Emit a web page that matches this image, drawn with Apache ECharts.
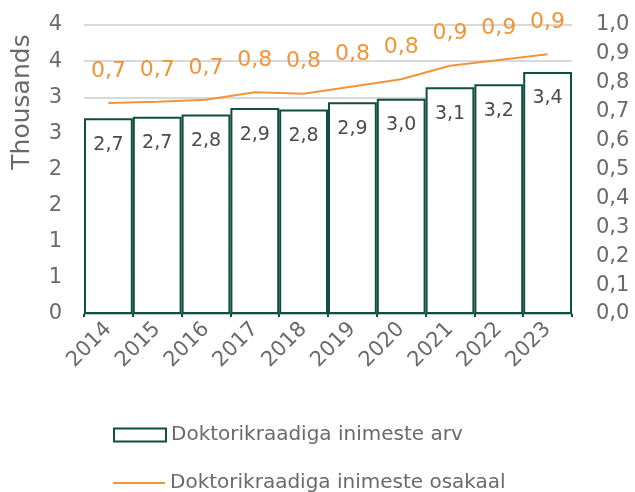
<!DOCTYPE html>
<html>
<head>
<meta charset="utf-8">
<script src="https://cdn.jsdelivr.net/npm/echarts@6/dist/echarts.min.js"></script>
<style>
  html, body { margin: 0; padding: 0; background: #fff; }
  #chart { width: 635px; height: 492px; }
</style>
</head>
<body>
<div id="chart"></div>
<script>
// data
var years = ['2014', '2015', '2016', '2017', '2018', '2019', '2020', '2021', '2022', '2023'];
var arv = [2.71, 2.73, 2.76, 2.85, 2.83, 2.93, 2.98, 3.14, 3.18, 3.35];      // thousands
var osakaal = [0.730, 0.734, 0.741, 0.767, 0.762, 0.787, 0.812, 0.859, 0.879, 0.899];
var barName = 'Doktorikraadiga inimeste arv';
var lineName = 'Doktorikraadiga inimeste osakaal';

var font = '"DejaVu Sans", sans-serif';
var green = '#0e4f3d';
var orange = '#f0953a';
var grey = '#6a6a6a';

function comma1(v) { return v.toFixed(1).replace('.', ','); }

var myChart = echarts.init(document.getElementById('chart'));
var option = {
    textStyle: { fontFamily: font },
    grid: { left: 84, right: 63, top: 25, bottom: 178 },
    legend: [{
        left: 108,
        top: 420,
        itemWidth: 52,
        itemHeight: 13,
        itemGap: 6,
        textStyle: { fontFamily: font, fontSize: 20, color: grey },
        data: [{ name: barName, icon: 'rect' }]
    }, {
        left: 108,
        top: 468,
        itemWidth: 52,
        itemHeight: 2,
        textStyle: { fontFamily: font, fontSize: 20, color: grey },
        data: [{ name: lineName, icon: 'rect' }]
    }],
    graphic: [{
        type: 'text',
        x: 22, y: 102,
        rotation: Math.PI / 2,
        style: { text: 'Thousands', fontFamily: font, fontSize: 25, fill: grey, align: 'center', verticalAlign: 'middle' }
    }],
    xAxis: {
        type: 'category',
        data: years,
        axisLine: { lineStyle: { color: '#b9c9c2', width: 2 } },
        axisTick: { show: true, length: 3, lineStyle: { color: green, width: 2 } },
        axisLabel: { rotate: 45, fontSize: 21, color: grey, margin: 12, fontFamily: font }
    },
    yAxis: [{
        type: 'value',
        min: 0, max: 4, interval: 0.5,
        axisLine: { show: false },
        axisTick: { show: false },
        splitLine: { lineStyle: { color: '#d9d9d9', width: 2 } },
        axisLabel: {
            fontSize: 21, color: grey, margin: 22, fontFamily: font,
            formatter: function (v) { return String(Math.round(v)); }
        }
    }, {
        type: 'value',
        min: 0, max: 1, interval: 0.1,
        axisLine: { show: false },
        axisTick: { show: false },
        splitLine: { show: false },
        axisLabel: {
            fontSize: 21, color: grey, margin: 24, fontFamily: font,
            formatter: function (v) { return comma1(v); }
        }
    }],
    series: [{
        name: barName,
        type: 'bar',
        data: arv,
        barCategoryGap: '0%',
        itemStyle: { color: '#fff', borderColor: green, borderWidth: 2 },
        label: {
            show: true, position: 'insideTop', distance: 17,
            fontSize: 19, color: '#4a4a4a', fontFamily: font,
            formatter: function (p) { return comma1(p.value); }
        }
    }, {
        name: lineName,
        type: 'line',
        yAxisIndex: 1,
        data: osakaal,
        symbol: 'circle',
        symbolSize: 0.1,
        showSymbol: true,
        lineStyle: { color: orange, width: 2 },
        itemStyle: { color: orange },
        label: {
            show: true, position: 'top', distance: 21,
            fontSize: 22, color: orange, fontFamily: font,
            formatter: function (p) { return comma1(p.value); }
        }
    }]
};
myChart.setOption(option);
</script>
</body>
</html>
